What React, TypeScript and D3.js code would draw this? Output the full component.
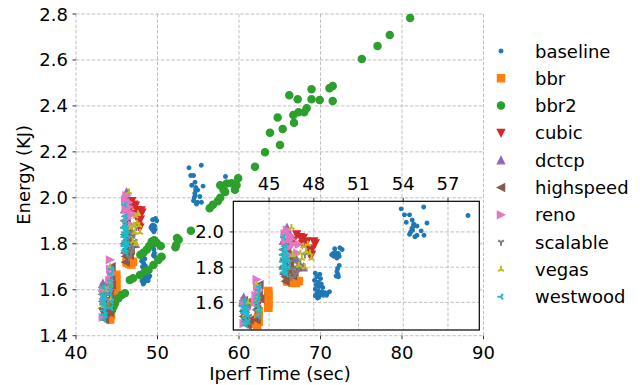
import React from "react";
import * as d3 from "d3";

type Pt = [number, number];

// iperf time (sec), energy (KJ)
const baseline: Pt[] = [
  [48.1, 1.765], [48.4, 1.76], [48.2, 1.745], [48.45, 1.735], [48.05, 1.725], [48.3, 1.715],
  [48.5, 1.705], [48.15, 1.7], [48.35, 1.69], [48.6, 1.685], [48.1, 1.675], [48.3, 1.665],
  [48.55, 1.66], [48.2, 1.65], [48.45, 1.645], [48.75, 1.655], [48.1, 1.638], [48.35, 1.63],
  [48.65, 1.64], [48.9, 1.652], [48.85, 1.64], [48.25, 1.625], [49.05, 1.66],
  [49.2, 1.87], [49.35, 1.862], [49.5, 1.868], [49.45, 1.882], [49.65, 1.878], [49.4, 1.905],
  [49.75, 1.91], [49.9, 1.9], [49.3, 1.878], [49.55, 1.852], [49.7, 1.862],
  [49.7, 1.81], [49.6, 1.792], [49.55, 1.775], [49.62, 1.76], [49.5, 1.75], [49.65, 1.745],
  [53.86, 2.131], [55.37, 2.142], [54.08, 2.097], [54.42, 2.097], [54.2, 2.055], [54.6, 2.068],
  [55.59, 2.051], [54.69, 2.034], [54.92, 2.034], [54.58, 2.02], [54.62, 2.01], [55.2, 2.006],
  [54.42, 1.987], [54.78, 1.973], [54.92, 1.981], [55.39, 1.981], [54.7, 2.045], [54.5, 2.0],
  [58.34, 2.093],
];
const bbr: Pt[] = [
  [44.95, 1.665], [44.95, 1.645], [44.95, 1.625], [44.95, 1.605], [44.95, 1.585], [44.95, 1.57],
  [44.3, 1.55], [44.3, 1.53], [44.25, 1.51], [44.3, 1.49], [44.05, 1.478], [44.2, 1.47],
  [46.3, 1.718], [46.55, 1.712], [46.8, 1.71], [47.0, 1.722], [46.45, 1.728], [46.2, 1.72],
];
const bbr2: Pt[] = [
  [44.4, 1.512], [44.6, 1.526], [44.8, 1.541], [45.2, 1.563], [45.6, 1.577], [46.0, 1.585],
  [46.6, 1.642], [47.0, 1.65], [47.85, 1.664], [48.5, 1.679], [48.9, 1.686], [49.5, 1.708],
  [50.1, 1.729], [50.5, 1.744],
  [47.9, 1.752], [48.3, 1.762], [48.7, 1.775], [49.0, 1.79], [49.3, 1.81], [49.6, 1.815],
  [49.9, 1.805], [50.4, 1.79],
  [52.2, 1.785], [52.3, 1.795], [52.4, 1.825], [52.6, 1.818], [54.1, 1.857],
  [56.4, 1.955], [56.8, 1.97], [57.4, 1.985], [57.7, 2.0], [57.7, 2.055], [58.1, 2.035],
  [58.3, 2.025], [58.5, 2.062], [59.1, 2.063], [59.5, 2.035], [59.7, 2.055], [59.9, 2.085],
  [61.96, 2.135], [63.19, 2.198], [63.8, 2.283], [65.03, 2.23], [64.74, 2.35], [65.36, 2.3],
  [66.17, 2.446], [66.75, 2.327], [66.67, 2.36], [67.3, 2.372], [68.0, 2.372], [68.3, 2.39],
  [67.2, 2.429], [68.9, 2.472], [68.9, 2.429], [69.9, 2.426], [71.1, 2.477], [71.5, 2.487],
  [71.5, 2.421], [75.07, 2.604], [77.0, 2.661], [78.5, 2.709], [81.0, 2.783],
];
const cubic: Pt[] = [
  [46.85, 1.985], [47.1, 1.97], [47.3, 1.965], [47.55, 1.945], [48.0, 1.945], [48.1, 1.935],
  [47.9, 1.905], [47.85, 1.87], [47.65, 1.9], [47.25, 1.93], [46.6, 1.95], [47.7, 1.875],
  [43.5, 1.55], [44.2, 1.58], [43.35, 1.5], [44.3, 1.64],
];
const dctcp: Pt[] = [
  [46.2, 2.025], [46.05, 2.005], [46.4, 1.985], [45.95, 1.95], [46.3, 1.9], [46.8, 1.85],
  [46.1, 1.82], [47.3, 1.8], [43.3, 1.628], [43.25, 1.61], [43.5, 1.59], [44.1, 1.62],
  [43.4, 1.55], [44.3, 1.66], [43.6, 1.5],
];
const highspeed: Pt[] = [
  [45.95, 1.87], [45.95, 1.8], [46.1, 1.745], [46.1, 1.92], [46.0, 1.84], [46.0, 1.76],
  [46.25, 1.96], [46.5, 1.85], [46.9, 1.8], [45.95, 1.9], [46.3, 1.78], [46.1, 1.72],
  [46.6, 1.75], [46.4, 1.81], [46.7, 1.77], [46.2, 1.89],
  [43.3, 1.55], [43.35, 1.48], [43.55, 1.47], [43.25, 1.58], [43.7, 1.5],
  [44.1, 1.6], [44.3, 1.65], [43.3, 1.52], [44.35, 1.7], [43.3, 1.61], [44.2, 1.56],
  [43.5, 1.6], [44.15, 1.5], [44.4, 1.62],
];
const reno: Pt[] = [
  [46.2, 2.01], [46.4, 1.98], [46.6, 1.93], [46.3, 1.91], [46.1, 1.95], [47.0, 1.93],
  [46.05, 1.99], [46.3, 1.87], [46.9, 1.88], [46.5, 1.96], [44.17, 1.73], [44.1, 1.64],
  [44.2, 1.69], [44.05, 1.6], [43.35, 1.6], [43.5, 1.56], [44.3, 1.665], [43.3, 1.48],
];
const scalable: Pt[] = [
  [47.08, 1.84], [47.4, 1.87], [46.6, 1.79], [46.86, 1.775], [46.4, 1.83], [46.75, 1.76],
  [47.2, 1.81], [46.25, 1.8], [46.5, 1.74], [46.9, 1.82], [46.7, 1.85], [47.0, 1.79],
  [43.45, 1.58], [44.1, 1.55], [43.65, 1.52], [44.3, 1.62], [43.3, 1.62], [43.5, 1.49],
];
const vegas: Pt[] = [
  [46.5, 2.025], [47.5, 1.89], [47.2, 1.85], [47.85, 1.85], [47.0, 1.81], [47.4, 1.8],
  [46.6, 1.87], [47.6, 1.93], [47.3, 1.92], [47.75, 1.88], [47.1, 1.88], [44.2, 1.7],
  [43.6, 1.6], [44.3, 1.56], [43.4, 1.53], [44.2, 1.62],
];
const westwood: Pt[] = [
  [45.96, 1.85], [45.9, 1.79], [46.07, 1.775], [45.9, 1.83], [45.98, 1.97], [46.1, 1.88],
  [46.0, 1.81], [46.25, 1.84], [45.95, 1.9], [46.15, 1.76], [46.3, 1.8], [46.1, 1.92],
  [46.2, 1.86], [45.95, 1.77], [46.05, 1.8], [46.1, 1.84], [45.9, 1.87],
  [43.4, 1.51], [43.5, 1.57], [44.35, 1.55], [44.28, 1.64], [43.3, 1.54],
  [43.6, 1.49], [43.25, 1.58], [44.2, 1.6], [44.35, 1.69], [44.3, 1.52], [43.45, 1.47],
  [43.35, 1.61], [43.55, 1.53], [44.2, 1.58], [44.3, 1.67], [43.4, 1.49], [43.3, 1.56],
  [44.25, 1.62], [43.45, 1.55],
];

const names = ["baseline", "bbr", "bbr2", "cubic", "dctcp", "highspeed", "reno", "scalable", "vegas", "westwood"];
const allData = [baseline, bbr, bbr2, cubic, dctcp, highspeed, reno, scalable, vegas, westwood];
const markerKinds = ["point", "square", "circle", "tdown", "tup", "tleft", "tright", "ydown", "yup", "yleft"];
const colors = d3.schemeCategory10;

const mainXTicks = [40, 50, 60, 70, 80, 90];
const mainYTicks = [1.4, 1.6, 1.8, 2.0, 2.2, 2.4, 2.6, 2.8];
const insetXTicks = [45, 48, 51, 54, 57];
const insetYTicks = [1.6, 1.8, 2.0];

const W = 643;
const H = 385;
const FONT = "DejaVu Sans, sans-serif";
const MS = 7.2; // marker size in px

// matplotlib-like marker shapes
function markerPath(kind: string, s: number): string {
  const p = d3.path();
  const h = s / 2;
  switch (kind) {
    case "point":
      p.moveTo(h * 0.5, 0);
      p.arc(0, 0, h * 0.5, 0, 2 * Math.PI);
      break;
    case "circle":
      p.moveTo(h, 0);
      p.arc(0, 0, h, 0, 2 * Math.PI);
      break;
    case "square":
      p.rect(-h, -h, s, s);
      break;
    case "tdown":
      p.moveTo(0, h); p.lineTo(-h, -h); p.lineTo(h, -h); p.closePath();
      break;
    case "tup":
      p.moveTo(0, -h); p.lineTo(-h, h); p.lineTo(h, h); p.closePath();
      break;
    case "tleft":
      p.moveTo(-h, 0); p.lineTo(h, -h); p.lineTo(h, h); p.closePath();
      break;
    case "tright":
      p.moveTo(h, 0); p.lineTo(-h, -h); p.lineTo(-h, h); p.closePath();
      break;
    case "ydown":
      p.moveTo(0, 0); p.lineTo(0, h);
      p.moveTo(0, 0); p.lineTo(0.8 * h, -0.5 * h);
      p.moveTo(0, 0); p.lineTo(-0.8 * h, -0.5 * h);
      break;
    case "yup":
      p.moveTo(0, 0); p.lineTo(0, -h);
      p.moveTo(0, 0); p.lineTo(0.8 * h, 0.5 * h);
      p.moveTo(0, 0); p.lineTo(-0.8 * h, 0.5 * h);
      break;
    case "yleft":
      p.moveTo(0, 0); p.lineTo(-h, 0);
      p.moveTo(0, 0); p.lineTo(0.5 * h, -0.8 * h);
      p.moveTo(0, 0); p.lineTo(0.5 * h, 0.8 * h);
      break;
  }
  return p.toString();
}

function Marker({ kind, color, x, y }: { kind: string; color: string; x: number; y: number }) {
  const lineOnly = kind.startsWith("y");
  return (
    <path
      d={markerPath(kind, MS)}
      transform={`translate(${x},${y})`}
      fill={lineOnly ? "none" : color}
      stroke={color}
      strokeWidth={lineOnly ? 2 : 1.3}
      strokeLinecap="butt"
    />
  );
}

export default function App() {
  const x = d3.scaleLinear().domain([40, 90]).range([76, 483.5]);
  const y = d3.scaleLinear().domain([1.4, 2.8]).range([335.7, 14]);
  const ix = d3.scaleLinear().domain([42.6, 59.1]).range([233.3, 479.3]);
  const iy = d3.scaleLinear().domain([1.443, 2.174]).range([330, 201.3]);
  const fmt = d3.format(".1f");
  const grid = { stroke: "#b0b0b0", strokeWidth: 0.8, strokeDasharray: "3.5,1.8" };
  const [ix0, ix1] = ix.range();
  const [iy0, iy1] = iy.range();

  return (
    <svg width={W} height={H} style={{ position: "absolute", left: 0, top: 0, background: "#fff" }} fontFamily={FONT}>
      <defs>
        <clipPath id="insetClip">
          <rect x={ix0} y={iy1} width={ix1 - ix0} height={iy0 - iy1} />
        </clipPath>
      </defs>

      {/* main grid */}
      {mainXTicks.map((t) => (
        <line key={"gx" + t} x1={x(t)} x2={x(t)} y1={y(2.8)} y2={y(1.4)} {...grid} />
      ))}
      {mainYTicks.map((t) => (
        <line key={"gy" + t} x1={x(40)} x2={x(90)} y1={y(t)} y2={y(t)} {...grid} />
      ))}

      {/* main ticks + labels */}
      {mainXTicks.map((t) => (
        <g key={"tx" + t}>
          <line x1={x(t)} x2={x(t)} y1={y(1.4)} y2={y(1.4) + 3.5} stroke="#000" strokeWidth={0.8} />
          <text x={x(t)} y={358.5} fontSize={18} textAnchor="middle">{t}</text>
        </g>
      ))}
      {mainYTicks.map((t) => (
        <g key={"ty" + t}>
          <line x1={x(40) - 3.5} x2={x(40)} y1={y(t)} y2={y(t)} stroke="#000" strokeWidth={0.8} />
          <text x={68} y={y(t) + 6.5} fontSize={18} textAnchor="end">{fmt(t)}</text>
        </g>
      ))}
      <text x={280} y={380} fontSize={18} textAnchor="middle">Iperf Time (sec)</text>
      <text transform={`translate(29.5,${(y(1.4) + y(2.8)) / 2}) rotate(-90)`} fontSize={18} textAnchor="middle">
        Energy (KJ)
      </text>

      {/* main scatter */}
      {allData.map((pts, si) => (
        <g key={"s" + si}>
          {pts.map((d, i) => (
            <Marker key={i} kind={markerKinds[si]} color={colors[si]} x={x(d[0])} y={y(d[1])} />
          ))}
        </g>
      ))}

      {/* inset */}
      <rect x={ix0} y={iy1} width={ix1 - ix0} height={iy0 - iy1} fill="#fff" />
      {insetXTicks.map((t) => (
        <line key={"igx" + t} x1={ix(t)} x2={ix(t)} y1={iy1} y2={iy0} {...grid} />
      ))}
      {insetYTicks.map((t) => (
        <line key={"igy" + t} x1={ix0} x2={ix1} y1={iy(t)} y2={iy(t)} {...grid} />
      ))}
      <g clipPath="url(#insetClip)">
        {allData.map((pts, si) =>
          names[si] === "bbr2" ? null : (
            <g key={"is" + si}>
              {pts.map((d, i) => (
                <Marker key={i} kind={markerKinds[si]} color={colors[si]} x={ix(d[0])} y={iy(d[1])} />
              ))}
            </g>
          )
        )}
      </g>
      <rect x={ix0} y={iy1} width={ix1 - ix0} height={iy0 - iy1} fill="none" stroke="#000" strokeWidth={1.2} />
      {insetXTicks.map((t) => (
        <g key={"itx" + t}>
          <line x1={ix(t)} x2={ix(t)} y1={iy1} y2={iy1 - 3.5} stroke="#000" strokeWidth={0.8} />
          <text x={ix(t)} y={189.5} fontSize={18} textAnchor="middle">{t}</text>
        </g>
      ))}
      {insetYTicks.map((t) => (
        <g key={"ity" + t}>
          <line x1={ix0 - 3.5} x2={ix0} y1={iy(t)} y2={iy(t)} stroke="#000" strokeWidth={0.8} />
          <text x={224} y={iy(t) + 6.5} fontSize={18} textAnchor="end">{fmt(t)}</text>
        </g>
      ))}

      {/* legend */}
      {names.map((n, i) => {
        const ly = 51 + i * 27.3;
        return (
          <g key={"lg" + n}>
            <Marker kind={markerKinds[i]} color={colors[i]} x={501} y={ly} />
            <text x={535} y={ly + 6.5} fontSize={18}>{n}</text>
          </g>
        );
      })}
    </svg>
  );
}
